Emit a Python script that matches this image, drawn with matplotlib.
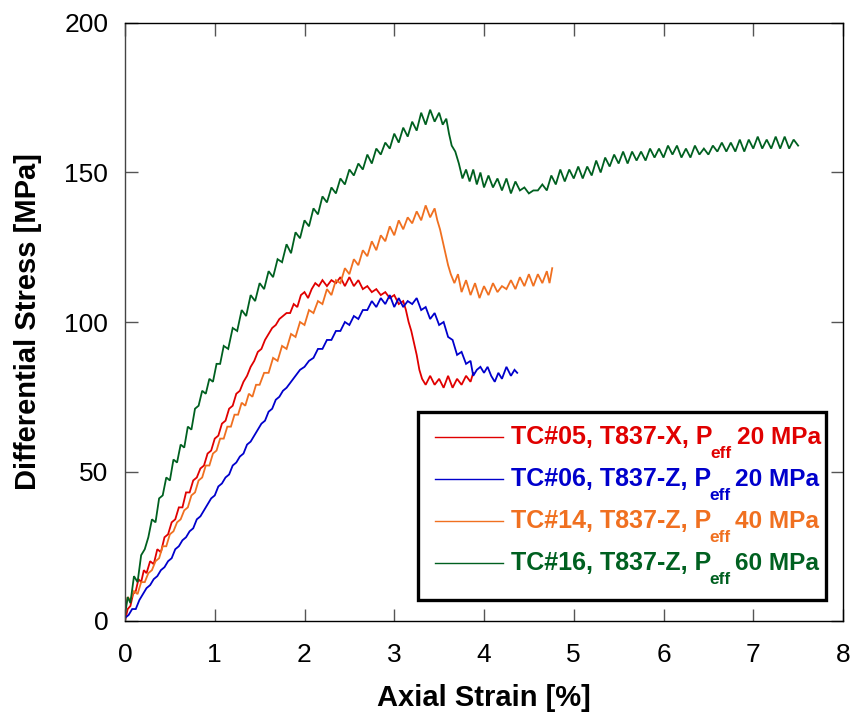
import matplotlib
matplotlib.use("Agg")
import matplotlib.pyplot as plt
from matplotlib.patches import Rectangle
from matplotlib.lines import Line2D
from matplotlib import font_manager

# ---------------- data ----------------
TC05 = [(0.00,0),(0.03,4),(0.06,5),(0.09,9),(0.12,10),(0.15,14),(0.18,13),(0.21,17),(0.24,16),(0.28,20),
        (0.32,19),(0.36,24),(0.40,23),(0.44,28),(0.48,29),(0.52,33),(0.56,34),(0.60,38),(0.64,38),(0.68,43),
        (0.72,43),(0.76,47),(0.80,48),(0.84,51),(0.88,52),(0.92,56),(0.96,57),(1.00,61),(1.04,62),(1.08,66),
        (1.12,67),(1.16,71),(1.20,72),(1.24,76),(1.28,77),(1.32,80),(1.36,82),(1.40,85),(1.44,87),(1.48,90),
        (1.52,91),(1.56,94),(1.60,96),(1.64,98),(1.68,99),(1.72,101),(1.76,102),(1.80,103),(1.84,103),(1.88,106),
        (1.92,105),(1.96,109),(2.00,110),(2.04,108),(2.08,111),(2.12,113),(2.16,112),(2.20,114),(2.25,112),(2.30,114),
        (2.35,113),(2.40,115),(2.45,112),(2.50,115),(2.55,112),(2.60,114),(2.65,111),(2.70,112),(2.75,110),(2.80,111),
        (2.85,109),(2.90,110),(2.95,108),(3.00,109),(3.05,106),(3.10,107),(3.13,104),(3.16,100),(3.19,97),(3.22,93),
        (3.25,89),(3.28,84),(3.31,81),(3.35,79),(3.40,82),(3.45,79),(3.50,81),(3.55,78),(3.60,82),(3.65,78),
        (3.70,81),(3.75,79),(3.80,82),(3.85,80),(3.88,83)]

TC06 = [(0.00,1),(0.04,2),(0.08,4),(0.12,4),(0.16,7),(0.20,9),(0.24,11),(0.28,12),(0.32,14),(0.36,15),
        (0.40,17),(0.44,18),(0.48,20),(0.52,21),(0.56,24),(0.60,25),(0.64,27),(0.68,28),(0.72,30),(0.76,31),
        (0.80,34),(0.84,35),(0.88,37),(0.92,39),(0.96,41),(1.00,42),(1.04,45),(1.08,46),(1.12,48),(1.16,49),
        (1.20,52),(1.24,53),(1.28,55),(1.32,56),(1.36,59),(1.40,60),(1.44,62),(1.48,64),(1.52,66),(1.56,67),
        (1.60,70),(1.64,71),(1.68,74),(1.72,75),(1.76,77),(1.80,78),(1.85,80),(1.90,82),(1.95,84),(2.00,85),
        (2.05,87),(2.10,88),(2.15,91),(2.20,91),(2.25,94),(2.30,94),(2.35,97),(2.40,97),(2.45,100),(2.50,99),
        (2.55,102),(2.60,101),(2.65,104),(2.70,104),(2.75,107),(2.80,105),(2.85,108),(2.90,106),(2.95,109),(3.00,105),
        (3.05,108),(3.10,105),(3.15,107),(3.20,106),(3.25,108),(3.30,104),(3.35,105),(3.40,101),(3.45,103),(3.50,99),
        (3.55,100),(3.60,95),(3.65,94),(3.70,89),(3.75,90),(3.80,86),(3.85,87),(3.88,82),(3.92,84),(3.96,85),
        (4.00,83),(4.04,85),(4.08,82),(4.12,80),(4.16,83),(4.20,81),(4.25,85),(4.30,82),(4.34,84),(4.37,83)]

TC14 = [(0.00,4),(0.03,8),(0.06,7),(0.10,10),(0.14,9),(0.18,13),(0.22,13),(0.26,16),(0.30,17),(0.34,20),
        (0.38,21),(0.42,25),(0.46,25),(0.50,29),(0.54,30),(0.58,33),(0.62,34),(0.66,37),(0.70,38),(0.74,42),
        (0.78,43),(0.82,47),(0.86,48),(0.90,52),(0.94,52),(0.98,56),(1.02,57),(1.06,61),(1.10,61),(1.14,65),
        (1.18,65),(1.22,69),(1.26,69),(1.30,73),(1.34,72),(1.38,76),(1.42,75),(1.46,79),(1.50,79),(1.55,83),
        (1.60,83),(1.65,88),(1.70,87),(1.75,92),(1.80,91),(1.85,96),(1.90,95),(1.95,100),(2.00,99),(2.05,104),
        (2.10,103),(2.15,107),(2.20,106),(2.25,111),(2.30,109),(2.35,114),(2.40,113),(2.45,118),(2.50,116),(2.55,121),
        (2.60,119),(2.65,124),(2.70,122),(2.75,127),(2.80,124),(2.85,129),(2.90,127),(2.95,132),(3.00,129),(3.05,134),
        (3.10,131),(3.15,135),(3.20,133),(3.25,137),(3.30,134),(3.35,139),(3.40,135),(3.45,138),(3.48,134),(3.51,131),
        (3.54,127),(3.57,123),(3.60,119),(3.63,116),(3.67,113),(3.71,116),(3.75,110),(3.80,114),(3.85,109),(3.90,113),
        (3.95,108),(4.00,112),(4.05,109),(4.10,113),(4.15,110),(4.20,112),(4.25,111),(4.30,114),(4.35,111),(4.40,115),
        (4.45,112),(4.50,116),(4.55,112),(4.60,116),(4.65,113),(4.70,117),(4.73,113),(4.76,118)]

TC16 = [(0.00,2),(0.03,8),(0.06,6),(0.10,15),(0.14,13),(0.18,22),(0.22,24),(0.26,28),(0.30,34),(0.34,33),
        (0.38,41),(0.42,42),(0.46,48),(0.50,47),(0.54,54),(0.58,53),(0.62,59),(0.66,58),(0.70,65),(0.74,64),
        (0.78,71),(0.82,72),(0.86,77),(0.90,76),(0.94,81),(0.98,80),(1.02,86),(1.06,86),(1.10,92),(1.15,91),
        (1.20,98),(1.25,97),(1.30,104),(1.35,102),(1.40,109),(1.45,107),(1.50,113),(1.55,111),(1.60,117),(1.65,115),
        (1.70,121),(1.75,120),(1.80,126),(1.85,123),(1.90,130),(1.95,128),(2.00,134),(2.05,132),(2.10,138),(2.15,136),
        (2.20,142),(2.25,140),(2.30,145),(2.35,143),(2.40,148),(2.45,146),(2.50,151),(2.55,149),(2.60,153),(2.65,151),
        (2.70,156),(2.75,153),(2.80,158),(2.85,156),(2.90,160),(2.95,158),(3.00,163),(3.05,160),(3.10,165),(3.15,162),
        (3.20,167),(3.25,164),(3.30,170),(3.35,166),(3.40,171),(3.45,167),(3.50,170),(3.54,166),(3.58,168),(3.61,163),
        (3.64,159),(3.68,157),(3.72,153),(3.76,148),(3.80,151),(3.84,147),(3.88,151),(3.92,146),(3.96,150),(4.00,145),
        (4.05,149),(4.10,145),(4.15,148),(4.20,144),(4.25,148),(4.30,143),(4.35,147),(4.40,144),(4.45,145),(4.50,143),
        (4.55,144),(4.60,144),(4.65,146),(4.70,144),(4.75,149),(4.80,146),(4.85,151),(4.90,147),(4.95,151),(5.00,148),
        (5.05,152),(5.10,148),(5.15,152),(5.20,149),(5.25,154),(5.30,150),(5.35,155),(5.40,152),(5.45,156),(5.50,153),
        (5.55,157),(5.60,153),(5.65,157),(5.70,154),(5.75,157),(5.80,154),(5.85,158),(5.90,155),(5.95,158),(6.00,155),
        (6.05,159),(6.10,156),(6.15,159),(6.20,155),(6.25,158),(6.30,155),(6.35,159),(6.40,156),(6.45,158),(6.50,156),
        (6.55,159),(6.60,157),(6.65,160),(6.70,157),(6.75,160),(6.80,157),(6.85,161),(6.90,157),(6.95,161),(7.00,158),
        (7.05,162),(7.10,158),(7.15,161),(7.20,158),(7.25,162),(7.30,158),(7.35,162),(7.40,158),(7.45,161),(7.50,159)]

SERIES = [TC05, TC06, TC14, TC16]
LABEL_MAIN = ["TC#05, T837-X, P", "TC#06, T837-Z, P", "TC#14, T837-Z, P", "TC#16, T837-Z, P"]
LABEL_SUB = ["eff", "eff", "eff", "eff"]
LABEL_END = ["20 MPa", "20 MPa", "40 MPa", "60 MPa"]
COLORS = ["#E00000", "#0000CC", "#F07020", "#006020"]

X_TICKS = [0, 1, 2, 3, 4, 5, 6, 7, 8]
Y_TICKS = [0, 50, 100, 150, 200]
X_LABEL = "Axial Strain [%]"
Y_LABEL = "Differential Stress [MPa]"

# ---------------- fonts ----------------
avail = {f.name for f in font_manager.fontManager.ttflist}
SANS = "Liberation Sans" if "Liberation Sans" in avail else "DejaVu Sans"
NARROW = "Liberation Sans Narrow" if "Liberation Sans Narrow" in avail else SANS
plt.rcParams["font.family"] = [SANS, "DejaVu Sans"]

W, H = 854, 715
fig = plt.figure(figsize=(W / 100, H / 100), dpi=100)

def fx(px):
    return px / W

def fy(py):
    return 1 - py / H

L, R, T, B = 125, 843, 23, 621
ax = fig.add_axes([fx(L), fy(B), fx(R) - fx(L), fy(T) - fy(B)])

for data, col in zip(SERIES, COLORS):
    xs = [p[0] for p in data]
    ys = [p[1] for p in data]
    ax.plot(xs, ys, color=col, lw=1.3, solid_joinstyle="miter")

ax.set_xlim(0, 8)
ax.set_ylim(0, 200)
ax.set_xticks(X_TICKS)
ax.set_yticks(Y_TICKS)
ax.tick_params(direction="in", length=9, width=1.0, color="#555555",
               top=True, right=True, labelsize=19)
ax.tick_params(axis="x", pad=16)
ax.tick_params(axis="y", pad=12)
for s in ax.spines.values():
    s.set_linewidth(1.0)
    s.set_color("black")
ax.spines["left"].set_color("#444444")

ax.set_xlabel(X_LABEL, fontsize=21, fontweight="bold", labelpad=12)
ax.set_ylabel(Y_LABEL, fontsize=21, fontweight="bold", family=[NARROW, "DejaVu Sans"], labelpad=16)

# ---------------- legend box (drawn by hand) ----------------
lx0, ly0, lx1, ly1 = 418, 412, 826, 600
fig.patches.append(Rectangle((fx(lx0), fy(ly1)), fx(lx1) - fx(lx0), fy(ly0) - fy(ly1),
                             transform=fig.transFigure, fill=True, facecolor="white",
                             edgecolor="black", linewidth=2.4, zorder=5))
row_y = [437, 479, 521, 563]
fig.canvas.draw()
renderer = fig.canvas.get_renderer()
for ry, col, m, sub, end in zip(row_y, COLORS, LABEL_MAIN, LABEL_SUB, LABEL_END):
    fig.add_artist(Line2D([fx(435), fx(503)], [fy(ry), fy(ry)], color=col, lw=1.0,
                          transform=fig.transFigure, zorder=6))
    t1 = fig.text(fx(511), fy(ry), m, color=col, fontsize=18, fontweight="bold",
                  va="center", ha="left", zorder=7)
    bb = t1.get_window_extent(renderer)
    t2 = fig.text(bb.x1 / W - fx(2), fy(ry + 16), sub, color=col, fontsize=12.5,
                  fontweight="bold", va="center", ha="left", zorder=7)
    bb2 = t2.get_window_extent(renderer)
    fig.text(bb2.x1 / W + fx(5), fy(ry), end, color=col, fontsize=17.6, fontweight="bold",
             va="center", ha="left", zorder=7)

fig.savefig("out.png", dpi=100)
